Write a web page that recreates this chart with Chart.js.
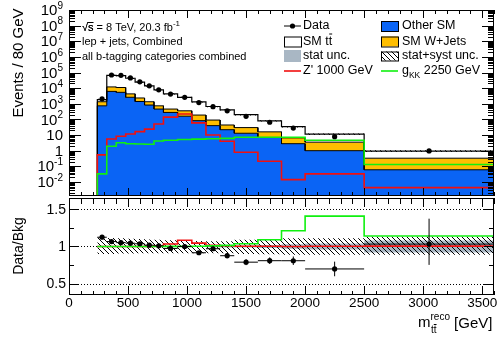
<!DOCTYPE html>
<html>
<head>
<meta charset="utf-8">
<title>m_tt reco</title>
<script src="https://cdn.jsdelivr.net/npm/chart.js@4.4.1/dist/chart.umd.min.js"></script>
<style>
  html, body { margin: 0; padding: 0; background: #fff; }
  #wrap { position: relative; width: 498px; height: 338px; overflow: hidden; }
  #wrap canvas { position: absolute; left: 0; }
  #main { top: 0; }
  #ratio { top: 190px; }
</style>
</head>
<body>
<div id="wrap">
  <canvas id="main" width="498" height="200"></canvas>
  <canvas id="ratio" width="498" height="148"></canvas>
</div>
<script>
// binning in reconstructed m_tt (GeV)
const binEdges = [240, 320, 400, 480, 560, 640, 720, 800, 920, 1040, 1160, 1280, 1400, 1600, 1800, 2000, 2500, 3600];

// events / 80 GeV in each bin
const otherSM    = [740, 6200, 5400, 2600, 1400, 830, 460, 280, 160, 83, 40, 22, 13, 7, 2.8, 1.0, 0.06];
const wJets      = [610, 5800, 5600, 1700, 950, 520, 280, 180, 195, 107, 51, 22, 17, 9, 3.8, 2.5, 0.27];
const smTtbar    = [500, 53000, 52000, 38700, 22150, 12450, 6960, 3840, 2245, 1120, 579, 361, 170, 65.5, 28, 7.8, 0.6];
const dataObs    = [2080, 69300, 66300, 44900, 25400, 14050, 7770, 4190, 2600, 1200, 650, 355, 158, 66, 28, 7.9, 0.96];
const zprime1000 = [0.54, 5.6, 8.4, 11.7, 16.6, 24, 51, 140, 220, 60, 10, 4, 0.8, 0.21, 0.014, 0.033, 0.0043];
const gkk2250    = [0.033, 1.9, 3.2, 2.8, 2.7, 2.6, 4.2, 4.6, 5.2, 5.5, 5.8, 6.1, 7.2, 7.3, 7.3, 4.6, 0.13];

// relative uncertainties
const dataErrUp = [0.01, 0.004, 0.004, 0.005, 0.006, 0.008, 0.01, 0.013, 0.015, 0.02, 0.03, 0.04, 0.05, 0.055, 0.07, 0.14, 0.33];
const dataErrDn = [0.01, 0.004, 0.004, 0.005, 0.006, 0.008, 0.01, 0.013, 0.015, 0.02, 0.03, 0.04, 0.05, 0.055, 0.07, 0.14, 0.27];
const statUnc   = [0.004, 0.002, 0.002, 0.002, 0.003, 0.003, 0.004, 0.005, 0.006, 0.008, 0.01, 0.013, 0.015, 0.02, 0.03, 0.04, 0.08];
const totUncUp  = [0.125, 0.115, 0.11, 0.105, 0.1, 0.095, 0.09, 0.085, 0.08, 0.075, 0.072, 0.07, 0.09, 0.1, 0.11, 0.11, 0.13];
const totUncDn  = [0.1, 0.1, 0.095, 0.095, 0.09, 0.09, 0.09, 0.09, 0.09, 0.09, 0.09, 0.09, 0.1, 0.105, 0.11, 0.11, 0.11];

// axis ticks
const xTickLabels = [0, 500, 1000, 1500, 2000, 2500, 3000, 3500];
const yDecades = [-2, -1, 0, 1, 2, 3, 4, 5, 6, 7, 8, 9];
const ratioTickLabels = [0.5, 1, 1.5];

const FONT = '"Liberation Sans", Arial, Helvetica, sans-serif';
const BLUE = '#0a64f5';
const YELLOW = '#ffbe00';
const GREY = '#a9b7c4';
const RED = '#f01010';
const GREEN = '#10f010';

const X_MAX = 3600;
const Y_MIN = Math.pow(10, -2.9);
const Y_MAX = 1e9;

// stacked sums
const cumBlue = otherSM.slice();
const cumYellow = otherSM.map((v, i) => v + wJets[i]);
const cumTotal = cumYellow.map((v, i) => v + smTtbar[i]);
const centers = binEdges.slice(0, -1).map((e, i) => (e + binEdges[i + 1]) / 2);

// histogram outline as a list of points, optionally closed down to a floor
function steps(vals, floor) {
  const pts = [];
  if (floor !== undefined) pts.push({x: binEdges[0], y: floor});
  vals.forEach((v, i) => {
    pts.push({x: binEdges[i], y: v});
    pts.push({x: binEdges[i + 1], y: v});
  });
  if (floor !== undefined) pts.push({x: binEdges[binEdges.length - 1], y: floor});
  return pts;
}

function hatch(size) {
  const c = document.createElement('canvas');
  c.width = c.height = size;
  const g = c.getContext('2d');
  g.strokeStyle = '#000';
  g.lineWidth = 1;
  g.beginPath();
  g.moveTo(-1, -1); g.lineTo(size + 1, size + 1);
  g.moveTo(size - 1, -1); g.lineTo(size + 1, 1);
  g.moveTo(-1, size - 1); g.lineTo(1, size + 1);
  g.stroke();
  return g.createPattern(c, 'repeat');
}
const HATCH = hatch(5);

function seg(ctx, x1, y1, x2, y2) {
  ctx.beginPath();
  ctx.moveTo(x1, y1);
  ctx.lineTo(x2, y2);
  ctx.stroke();
}

function text(ctx, s, x, y, size, align) {
  ctx.font = size + 'px ' + FONT;
  ctx.textAlign = align || 'left';
  ctx.textBaseline = 'middle';
  ctx.fillStyle = '#000';
  ctx.fillText(s, x, y);
  return ctx.measureText(s).width;
}

function xTicks(ctx, a, xs, top, bottom) {
  const step = xTickLabels[1] - xTickLabels[0];
  for (let m = 0; m <= X_MAX; m += step / 5) {
    const px = Math.round(xs.getPixelForValue(m)) + 0.5;
    const major = m % step === 0;
    if (bottom) seg(ctx, px, a.bottom, px, a.bottom - (major ? bottom[1] : bottom[0]));
    if (top) seg(ctx, px, a.top, px, a.top + (major ? top[1] : top[0]));
  }
}

const transparent = 'rgba(0,0,0,0)';
const base = {
  responsive: false,
  animation: false,
  devicePixelRatio: 1,
  events: [],
  elements: {line: {tension: 0}, point: {radius: 0}},
};

// ---------- upper panel ----------
const mainDecor = {
  id: 'mainDecor',
  afterDraw(chart) {
    const {ctx, chartArea: a, scales: {x, y}} = chart;
    ctx.save();
    ctx.strokeStyle = '#000';
    ctx.lineWidth = 1;

    // data error bars
    centers.forEach((c, i) => {
      const px = x.getPixelForValue(c);
      seg(ctx, px, y.getPixelForValue(dataObs[i] * (1 + dataErrUp[i])), px, y.getPixelForValue(dataObs[i] * (1 - dataErrDn[i])));
    });

    xTicks(ctx, a, x, [4, 8], [4, 8]);
    for (let d = -3; d <= 9; d++) {
      for (let k = 1; k <= 9; k++) {
        const v = k * Math.pow(10, d);
        if (v < Y_MIN || v > Y_MAX) continue;
        const py = Math.round(y.getPixelForValue(v)) + 0.5;
        const len = k === 1 ? 12 : 6;
        seg(ctx, a.left, py, a.left + len, py);
        seg(ctx, a.right, py, a.right - len, py);
      }
    }
    ctx.strokeRect(a.left + 0.5, a.top + 0.5, a.right - a.left - 1, a.bottom - a.top - 1);

    // y tick labels
    yDecades.forEach(d => {
      const py = y.getPixelForValue(Math.pow(10, d)) + 1;
      const right = 63;
      if (d === 0 || d === 1) {
        text(ctx, d === 0 ? '1' : '10', right, py, 15, 'right');
      } else {
        ctx.font = '10px ' + FONT;
        const we = ctx.measureText(String(d)).width;
        text(ctx, '10', right - we, py, 15, 'right');
        text(ctx, String(d), right - we, py - 5, 10, 'left');
      }
    });

    // y title
    ctx.save();
    ctx.translate(19, 63);
    ctx.rotate(-Math.PI / 2);
    text(ctx, 'Events / 80 GeV', 0, 0, 15, 'center');
    ctx.restore();

    // labels, top left
    let tx = 82;
    ctx.font = '11px ' + FONT;
    const wr = ctx.measureText('\u221A').width;
    const ws = ctx.measureText('s').width;
    text(ctx, '\u221As', tx, 28, 11);
    seg(ctx, tx + wr - 0.5, 22.5, tx + wr + ws, 22.5);
    tx += text(ctx, '\u221As = 8 TeV, 20.3 fb', tx, 28, 11);
    text(ctx, '-1', tx, 24, 8);
    text(ctx, 'lep + jets, Combined', 82, 42, 11);
    text(ctx, 'all b-tagging categories combined', 82, 57, 11);

    // legend
    const c1 = 284, c2 = 381, bw = 17, t1 = 303, t2 = 402;
    const rows = [26, 41.5, 56, 71];
    // Data
    seg(ctx, c1, rows[0], c1 + bw, rows[0]);
    ctx.fillStyle = '#000';
    ctx.beginPath(); ctx.arc(c1 + bw / 2, rows[0], 2.6, 0, Math.PI * 2); ctx.fill();
    text(ctx, 'Data', t1, rows[0], 12.5);
    // SM tt
    ctx.fillStyle = '#fff';
    ctx.fillRect(c1, rows[1] - 5, bw, 10);
    ctx.strokeRect(c1 + 0.5, rows[1] - 4.5, bw, 10);
    let w = text(ctx, 'SM t', t1, rows[1], 12.5);
    const wt = text(ctx, 't', t1 + w, rows[1], 12.5);
    seg(ctx, t1 + w + 0.5, rows[1] - 7.5, t1 + w + wt, rows[1] - 7.5);
    // stat unc.
    ctx.fillStyle = GREY;
    ctx.fillRect(c1, rows[2] - 6, bw, 12);
    text(ctx, 'stat unc.', t1, rows[2], 12.5);
    // Z'
    ctx.strokeStyle = RED; ctx.lineWidth = 1.6;
    seg(ctx, c1, rows[3], c1 + bw, rows[3]);
    text(ctx, "Z' 1000 GeV", t1, rows[3], 12.5);
    ctx.strokeStyle = '#000'; ctx.lineWidth = 1;
    // Other SM
    ctx.fillStyle = BLUE;
    ctx.fillRect(c2, rows[0] - 5, bw, 10);
    ctx.strokeRect(c2 + 0.5, rows[0] - 4.5, bw, 10);
    text(ctx, 'Other SM', t2, rows[0], 12.5);
    // W+jets
    ctx.fillStyle = YELLOW;
    ctx.fillRect(c2, rows[1] - 5, bw, 10);
    ctx.strokeRect(c2 + 0.5, rows[1] - 4.5, bw, 10);
    text(ctx, 'SM W+Jets', t2, rows[1], 12.5);
    // stat+syst
    ctx.fillStyle = '#fff';
    ctx.fillRect(c2, rows[2] - 4.5, bw, 9);
    ctx.fillStyle = HATCH;
    ctx.fillRect(c2, rows[2] - 4.5, bw, 9);
    ctx.strokeRect(c2 + 0.5, rows[2] - 4, bw, 9);
    text(ctx, 'stat+syst unc.', t2, rows[2], 12.5);
    // g_KK
    ctx.strokeStyle = GREEN; ctx.lineWidth = 1.6;
    seg(ctx, c2, rows[3], c2 + bw, rows[3]);
    w = text(ctx, 'g', t2, rows[3], 12.5);
    const wk = text(ctx, 'KK', t2 + w, rows[3] + 5, 8.5);
    text(ctx, ' 2250 GeV', t2 + w + wk, rows[3], 12.5);
    ctx.restore();
  }
};

new Chart(document.getElementById('main'), {
  type: 'line',
  data: {
    datasets: [
      {label: 'Other SM', data: steps(cumBlue, Y_MIN), fill: 'start', backgroundColor: BLUE, borderColor: '#000', borderWidth: 1, order: 10},
      {label: 'SM W+Jets', data: steps(cumYellow, Y_MIN), fill: '-1', backgroundColor: YELLOW, borderColor: '#000', borderWidth: 1, order: 9},
      {label: 'SM ttbar', data: steps(cumTotal, Y_MIN), fill: '-1', backgroundColor: '#fff', borderColor: '#000', borderWidth: 1.2, order: 8},
      {label: 'unc down', data: steps(cumTotal.map((v, i) => v * (1 - totUncDn[i]))), fill: false, borderColor: transparent, order: 7},
      {label: 'unc up', data: steps(cumTotal.map((v, i) => v * (1 + totUncUp[i]))), fill: '-1', backgroundColor: HATCH, borderColor: transparent, order: 6},
      {label: "Z' 1000 GeV", data: steps(zprime1000, Y_MIN), fill: false, borderColor: RED, borderWidth: 1.6, order: 5},
      {label: 'gKK 2250 GeV', data: steps(gkk2250, Y_MIN), fill: false, borderColor: GREEN, borderWidth: 1.6, order: 4},
      {label: 'Data', data: centers.map((c, i) => ({x: c, y: dataObs[i]})), showLine: false,
       pointRadius: 2.6, pointBackgroundColor: '#000', pointBorderWidth: 0, order: 0},
    ]
  },
  options: Object.assign({}, base, {
    layout: {padding: {left: 69, right: 1, top: 10, bottom: 3}},
    plugins: {legend: {display: false}, tooltip: {enabled: false}, filler: {drawTime: 'beforeDatasetsDraw'}},
    scales: {
      x: {type: 'linear', min: 0, max: X_MAX, display: false},
      y: {type: 'logarithmic', min: Y_MIN, max: Y_MAX, display: false}
    }
  }),
  plugins: [mainDecor]
});

// ---------- ratio panel ----------
const ratio = dataObs.map((v, i) => v / cumTotal[i]);

const ratioDecor = {
  id: 'ratioDecor',
  beforeDatasetsDraw(chart) {
    const {ctx, chartArea: a, scales: {y}} = chart;
    ctx.save();
    ctx.strokeStyle = '#000';
    ctx.lineWidth = 1;
    ctx.setLineDash([1, 2]);
    ratioTickLabels.forEach(v => {
      const py = Math.round(y.getPixelForValue(v)) + 0.5;
      seg(ctx, a.left, py, a.right, py);
    });
    ctx.restore();
  },
  afterDatasetsDraw(chart) {
    const {ctx, scales: {x, y}} = chart;
    ctx.save();
    ctx.strokeStyle = '#000';
    ctx.lineWidth = 1;
    ratio.forEach((r, i) => {
      const py = y.getPixelForValue(r);
      seg(ctx, x.getPixelForValue(binEdges[i]), py, x.getPixelForValue(binEdges[i + 1]), py);
      const px = x.getPixelForValue(centers[i]);
      seg(ctx, px, y.getPixelForValue(r * (1 + dataErrUp[i])), px, y.getPixelForValue(r * (1 - dataErrDn[i])));
    });
    ctx.restore();
  },
  afterDraw(chart) {
    const {ctx, chartArea: a, scales: {x, y}} = chart;
    ctx.save();
    ctx.strokeStyle = '#000';
    ctx.lineWidth = 1;
    xTicks(ctx, a, x, [6, 9], [4, 9]);
    for (let v = 0.5; v <= 1.5; v += 0.25) {
      const py = Math.round(y.getPixelForValue(v)) + 0.5;
      const len = Math.abs(v * 2 - Math.round(v * 2)) < 1e-6 ? 10 : 5;
      seg(ctx, a.left, py, a.left + len, py);
      seg(ctx, a.right, py, a.right - len, py);
    }
    ctx.strokeRect(a.left + 0.5, a.top + 0.5, a.right - a.left - 1, a.bottom - a.top - 1);

    xTickLabels.forEach(m => text(ctx, String(m), x.getPixelForValue(m), 113, 13.5, 'center'));
    ratioTickLabels.forEach(v => text(ctx, String(v), 66, y.getPixelForValue(v) + 0.5, 14, 'right'));

    ctx.save();
    ctx.translate(19, 56);
    ctx.rotate(-Math.PI / 2);
    text(ctx, 'Data/Bkg', 0, 0, 14, 'center');
    ctx.restore();

    // x title: m_tt^reco [GeV]
    let tx = 418;
    tx += text(ctx, 'm', tx, 133, 15);
    const wreco = text(ctx, 'reco', tx, 127, 10);
    const w1 = text(ctx, 't', tx + 0.5, 140, 10);
    const w2 = text(ctx, 't', tx + 0.5 + w1, 140, 10);
    seg(ctx, tx + 0.5 + w1, 134.5, tx + 0.5 + w1 + w2, 134.5);
    text(ctx, ' [GeV]', tx + wreco, 134, 15);
    ctx.restore();
  }
};

new Chart(document.getElementById('ratio'), {
  type: 'line',
  data: {
    datasets: [
      {label: 'stat down', data: steps(statUnc.map(s => 1 - s)), fill: false, borderColor: transparent, order: 10},
      {label: 'stat up', data: steps(statUnc.map(s => 1 + s)), fill: '-1', backgroundColor: GREY, borderColor: transparent, order: 9},
      {label: 'unc down', data: steps(totUncDn.map(s => 1 - s)), fill: false, borderColor: transparent, order: 8},
      {label: 'unc up', data: steps(totUncUp.map(s => 1 + s)), fill: '-1', backgroundColor: HATCH, borderColor: transparent, order: 7},
      {label: "Z' 1000 GeV", data: steps(zprime1000.map((v, i) => (cumTotal[i] + v) / cumTotal[i])), fill: false, borderColor: RED, borderWidth: 1.6, order: 5},
      {label: 'gKK 2250 GeV', data: steps(gkk2250.map((v, i) => (cumTotal[i] + v) / cumTotal[i])), fill: false, borderColor: GREEN, borderWidth: 1.6, order: 4},
      {label: 'Data', data: centers.map((c, i) => ({x: c, y: ratio[i]})), showLine: false,
       pointRadius: 2.6, pointBackgroundColor: '#000', pointBorderWidth: 0, order: 0},
    ]
  },
  options: Object.assign({}, base, {
    layout: {padding: {left: 69, right: 1, top: 8, bottom: 43}},
    plugins: {legend: {display: false}, tooltip: {enabled: false}, filler: {drawTime: 'beforeDatasetsDraw'}},
    scales: {
      x: {type: 'linear', min: 0, max: X_MAX, display: false},
      y: {type: 'linear', min: 0.35, max: 1.65, display: false}
    }
  }),
  plugins: [ratioDecor]
});
</script>
</body>
</html>
